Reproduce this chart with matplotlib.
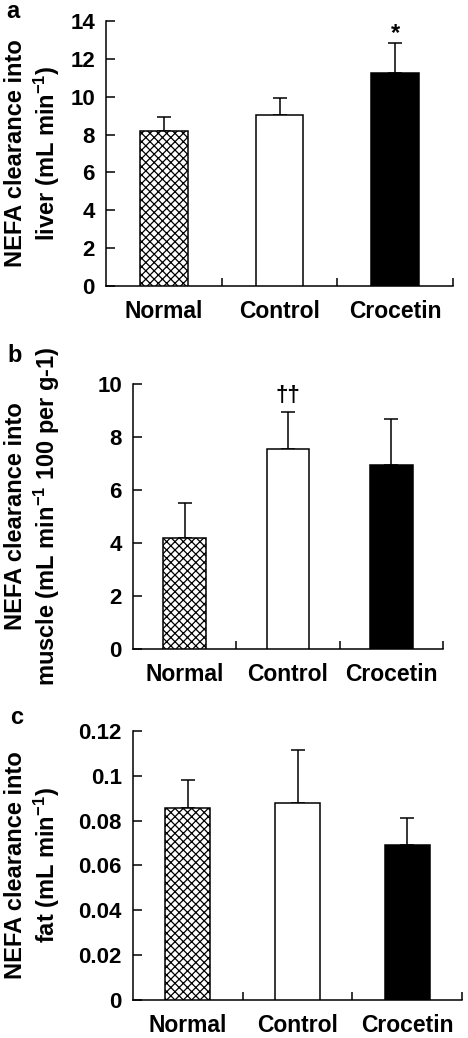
import numpy as np
import matplotlib
matplotlib.use('Agg')
import matplotlib.pyplot as plt
from matplotlib.ticker import FuncFormatter

plt.rcParams['font.family'] = ['Liberation Sans', 'DejaVu Sans']
plt.rcParams['font.weight'] = 'bold'
plt.rcParams['mathtext.fontset'] = 'custom'
plt.rcParams['mathtext.rm'] = 'Liberation Sans:bold'
plt.rcParams['mathtext.default'] = 'rm'
plt.rcParams['hatch.linewidth'] = 0.9

groups = ['Normal', 'Control', 'Crocetin']

liver_mean = [8.2, 9.05, 11.25]
liver_err = [0.75, 0.9, 1.57]
muscle_mean = [4.2, 7.55, 6.95]
muscle_err = [1.32, 1.38, 1.73]
fat_mean = [0.0855, 0.088, 0.069]
fat_err = [0.0126, 0.0234, 0.0121]

liver_marks = ['', '', '*']
muscle_marks = ['', '\u2020\u2020', '']
fat_marks = ['', '', '']

panels = [
    dict(letter='a', mean=liver_mean, err=liver_err, marks=liver_marks,
         ylim=14, yticks=np.arange(0, 15, 2),
         label=['NEFA clearance into', 'liver (mL min$^{-1}$)'],
         rect=[0.2265, 0.7245, 0.7415, 0.2553], lpos=(13, 12)),
    dict(letter='b', mean=muscle_mean, err=muscle_err, marks=muscle_marks,
         ylim=10, yticks=np.arange(0, 11, 2),
         label=['NEFA clearance into', 'muscle (mL min$^{-1}$ 100 per g-1)'],
         rect=[0.2842, 0.3748, 0.6624, 0.2556], lpos=(15, 355)),
    dict(letter='c', mean=fat_mean, err=fat_err, marks=fat_marks,
         ylim=0.12, yticks=[0, 0.02, 0.04, 0.06, 0.08, 0.1, 0.12],
         label=['NEFA clearance into', 'fat (mL min$^{-1}$)'],
         rect=[0.2842, 0.0366, 0.7030, 0.2592], lpos=(17, 718)),
]

W, H = 468, 1038
fig = plt.figure(figsize=(W / 100, H / 100), dpi=100)

x = np.arange(3) + 0.5
faces = ['white', 'white', 'black']
hatches = ['xxxx', None, None]

for p in panels:
    ax = fig.add_axes(p['rect'])
    bars = ax.bar(x, p['mean'], width=0.41, color=faces, edgecolor='black',
                  linewidth=1.1, zorder=3)
    for b, h in zip(bars, hatches):
        if h:
            b.set_hatch(h)
    ax.errorbar(x, p['mean'], yerr=[np.zeros(3), p['err']], fmt='none',
                ecolor='black', elinewidth=1.1, capsize=5, capthick=1.1, zorder=2)
    for xi, m, e, t in zip(x, p['mean'], p['err'], p['marks']):
        if t == '*':
            ax.annotate(t, (xi, m + e), xytext=(0, -1), textcoords='offset points',
                        ha='center', va='bottom', fontsize=17, fontweight='bold')
        elif t:
            ax.annotate(t, (xi, m + e), xytext=(0, 4), textcoords='offset points',
                        ha='center', va='bottom', fontsize=16, fontweight='bold')
    ax.set_xlim(0, 3)
    ax.set_ylim(0, p['ylim'])
    ax.spines['top'].set_visible(False)
    ax.spines['right'].set_visible(False)
    ax.spines['left'].set_linewidth(1.1)
    ax.spines['bottom'].set_linewidth(1.1)
    ax.set_yticks(p['yticks'])
    ax.yaxis.set_major_formatter(FuncFormatter(lambda v, pos: '%g' % v))
    ax.tick_params(axis='y', direction='in', length=6.5, width=1.1, pad=8, labelsize=16)
    ax.set_xticks(x)
    ax.set_xticklabels(groups)
    ax.set_xticks([1, 2, 3], minor=True)
    ax.tick_params(axis='x', which='major', length=0, pad=10, labelsize=16.5)
    ax.tick_params(axis='x', which='minor', direction='in', length=6, width=1.1)
    for lab in ax.get_xticklabels() + ax.get_yticklabels():
        lab.set_fontweight('bold')
    yc = p['rect'][1] + p['rect'][3] / 2
    fig.text(16 / W, yc, p['label'][0], rotation=90, ha='center', va='center',
             fontsize=17, fontweight='bold')
    fig.text(47 / W, yc, p['label'][1], rotation=90, ha='center', va='center',
             fontsize=17, fontweight='bold')
    fig.text(p['lpos'][0] / W, 1 - p['lpos'][1] / H, p['letter'],
             ha='center', va='center', fontsize=17, fontweight='bold')

fig.savefig('out.png', dpi=100)
